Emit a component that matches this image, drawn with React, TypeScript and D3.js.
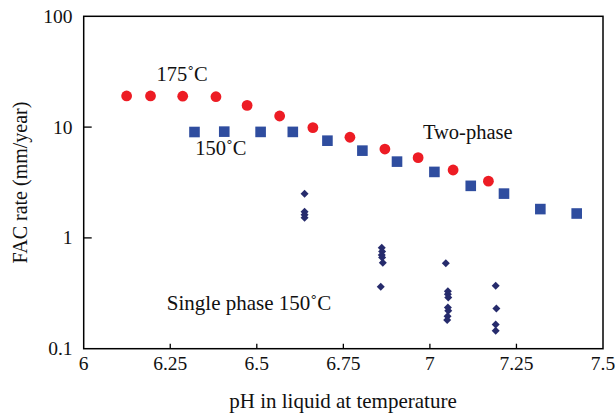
import React from "react";
import * as d3 from "d3";

const xTicks = [6, 6.25, 6.5, 6.75, 7, 7.25, 7.5];
const xTickLabels = ["6", "6.25", "6.5", "6.75", "7", "7.25", "7.5"];
const yTicks = [0.1, 1, 10, 100];
const yTickLabels = ["0.1", "1", "10", "100"];

const ph175 = [6.124, 6.193, 6.286, 6.382, 6.472, 6.566, 6.662, 6.769, 6.87, 6.966, 7.067, 7.169];
const rate175 = [19.1, 19.1, 19.0, 18.8, 15.7, 12.6, 9.9, 8.1, 6.34, 5.3, 4.1, 3.25];

const ph150 = [6.32, 6.406, 6.511, 6.604, 6.704, 6.805, 6.905, 7.013, 7.118, 7.214, 7.319, 7.424];
const rate150 = [9.03, 9.1, 9.05, 9.05, 7.54, 6.13, 4.88, 3.94, 2.95, 2.51, 1.82, 1.66];

const phSingle = [
  6.638, 6.638, 6.638, 6.638,
  6.861, 6.862, 6.861, 6.862, 6.864, 6.858,
  7.046, 7.052, 7.052, 7.053, 7.052, 7.053, 7.051, 7.05,
  7.19, 7.192, 7.19, 7.19,
];
const rateSingle = [
  2.5, 1.72, 1.62, 1.52,
  0.817, 0.752, 0.702, 0.664, 0.598, 0.363,
  0.59, 0.33, 0.31, 0.29, 0.235, 0.22, 0.196, 0.182,
  0.37, 0.23, 0.165, 0.145,
];

const annotations = [
  { text: "175˚C", ph: 6.21, rate: 26 },
  { text: "150˚C", ph: 6.322, rate: 5.6 },
  { text: "Two-phase", ph: 6.98, rate: 7.8 },
  { text: "Single phase 150˚C", ph: 6.24, rate: 0.224 },
];

const W = 615;
const H = 415;
const left = 83.7, right = 603, top = 16.3, bottom = 348.7;
const FONT = "'Liberation Serif', 'Times New Roman', serif";

export default function App() {
  const x = d3.scaleLinear().domain([6, 7.5]).range([left, right]);
  const y = d3.scaleLog().domain([0.1, 100]).range([bottom, top]);
  const diamond = "M0,-4L4,0L0,4L-4,0Z";

  return (
    <svg width={W} height={H} style={{ position: "absolute", left: 0, top: 0 }} fontFamily={FONT}>
      <rect x={0} y={0} width={W} height={H} fill="#fff" />
      {xTicks.slice(1, -1).map((t, i) => (
        <line key={"xt" + i} x1={x(t)} x2={x(t)} y1={bottom} y2={bottom - 5} stroke="#000" strokeWidth={1.3} />
      ))}
      {yTicks.slice(1, -1).map((t, i) => (
        <line key={"yt" + i} x1={left} x2={left + 8} y1={y(t)} y2={y(t)} stroke="#000" strokeWidth={1.3} />
      ))}
      {xTicks.map((t, i) => (
        <text key={"xl" + i} x={x(t)} y={370} fontSize={19.5} textAnchor="middle" fill="#111">
          {xTickLabels[i]}
        </text>
      ))}
      {yTicks.map((t, i) => (
        <text key={"yl" + i} x={72.5} y={y(t) + 6.5} fontSize={19.5} textAnchor="end" fill="#111">
          {yTickLabels[i]}
        </text>
      ))}
      <text x={343} y={408} fontSize={21} textAnchor="middle" fill="#111">
        pH in liquid at temperature
      </text>
      <text transform={`translate(27,${(top + bottom) / 2}) rotate(-90)`} fontSize={20} textAnchor="middle" fill="#111">
        FAC rate (mm/year)
      </text>
      {ph175.map((p, i) => (
        <circle key={"r" + i} cx={x(p)} cy={y(rate175[i])} r={5.4} fill="#ed1c24" />
      ))}
      {ph150.map((p, i) => (
        <rect key={"b" + i} x={x(p) - 5.3} y={y(rate150[i]) - 5.3} width={10.6} height={10.6} fill="#2f4d9f" />
      ))}
      {phSingle.map((p, i) => (
        <path key={"d" + i} d={diamond} transform={`translate(${x(p)},${y(rateSingle[i])})`} fill="#262b6c" />
      ))}
      {annotations.map((a, i) => (
        <text key={"a" + i} x={x(a.ph)} y={y(a.rate)} fontSize={i === 3 ? 21 : 20.5} fill="#111">
          {a.text}
        </text>
      ))}
      <rect x={left} y={top} width={right - left} height={bottom - top} fill="none" stroke="#000" strokeWidth={1.5} />
    </svg>
  );
}
